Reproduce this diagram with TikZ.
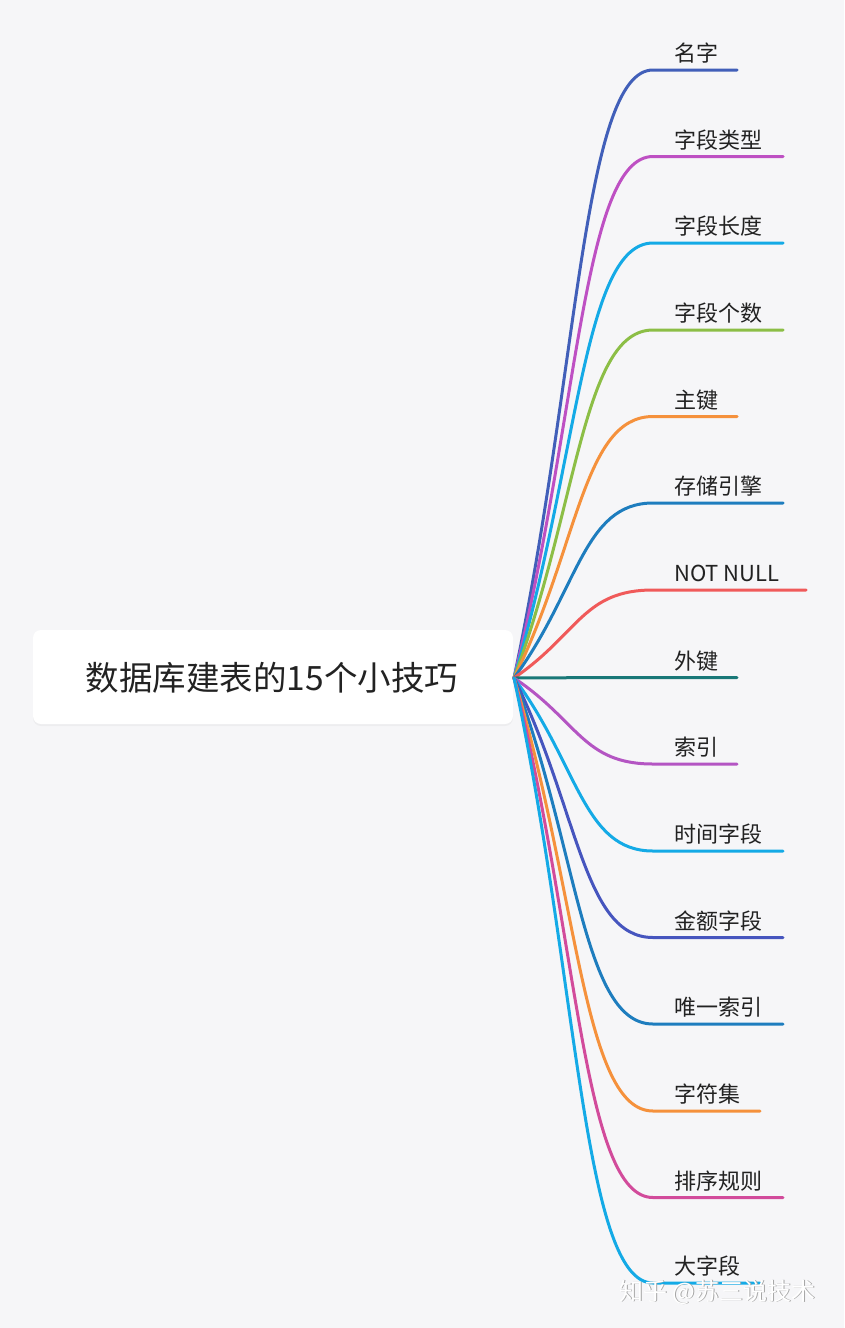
\documentclass[tikz,border=0pt]{standalone}
\usepackage{fontspec}
\setmainfont{Noto Sans CJK SC}
\usetikzlibrary{calc,shadows}
\definecolor{bg}{RGB}{246,246,248}
\definecolor{txt}{RGB}{34,34,34}
\definecolor{c1}{RGB}{65,95,185}
\definecolor{c2}{RGB}{190,80,195}
\definecolor{c3}{RGB}{20,170,230}
\definecolor{c4}{RGB}{140,190,70}
\definecolor{c5}{RGB}{245,145,60}
\definecolor{c6}{RGB}{30,125,190}
\definecolor{c7}{RGB}{240,90,90}
\definecolor{c8}{RGB}{25,120,120}
\definecolor{c9}{RGB}{180,85,195}
\definecolor{c10}{RGB}{20,170,230}
\definecolor{c11}{RGB}{70,85,190}
\definecolor{c12}{RGB}{30,125,190}
\definecolor{c13}{RGB}{245,145,60}
\definecolor{c14}{RGB}{210,75,155}
\definecolor{c15}{RGB}{20,170,230}
\tikzset{
  rootbox/.style={draw=none, fill=white, rounded corners=8pt, minimum width=480pt, minimum height=94pt, inner sep=0pt,
    drop shadow={opacity=0.07, shadow xshift=0pt, shadow yshift=-2pt}},
  roottext/.style={font=\fontsize{33.5}{38}\selectfont, text=txt, inner sep=0pt},
  branch/.style={line width=3pt, line cap=round},
  leaf/.style={font=\fontsize{22}{26}\selectfont, text=txt, inner sep=0pt, anchor=base west},
  wm/.style={font=\fontsize{24}{28}\selectfont, inner sep=0pt, anchor=base west}
}
\begin{document}
\begin{tikzpicture}[x=1pt,y=-1pt]
\useasboundingbox (0,0) rectangle (844,1328);
\fill[bg] (0,0) rectangle (844,1328);
\node[rootbox] (root) at (273,677) {};
\node[roottext] (roottitle) at (272,678) {数据库建表的15个小技巧};
\coordinate (o) at (514,678);
\foreach \i/\y/\xe/\t in {
  1/70/737/名字,
  2/156.5/783/字段类型,
  3/243/783/字段长度,
  4/330/783/字段个数,
  5/416.5/737/主键,
  6/503/783/存储引擎,
  7/590/806/NOT NULL,
  8/677.5/737/外键,
  9/764/737/索引,
  10/851/783/时间字段,
  11/937.5/783/金额字段,
  12/1024/783/唯一索引,
  13/1111/760/字符集,
  14/1197.5/783/排序规则,
  15/1283/760/大字段}{
  \coordinate (b\i) at (653,\y);
  \coordinate (e\i) at (\xe,\y);
  \draw[branch, c\i] (o) .. controls ($(o)!0.5!(b\i)+(-5,0)$) and ($(b\i)+(-70,0)$) .. (b\i) -- (e\i);
  \node[leaf] (l\i) at (674,\y-8.5) {\t};
}
\node[wm, text=black!35] (wmshadow) at (619.8,1300.8) {知乎 @苏三说技术};
\node[wm, text=white] (wmark) at (619,1300) {知乎 @苏三说技术};
\end{tikzpicture}
\end{document}
